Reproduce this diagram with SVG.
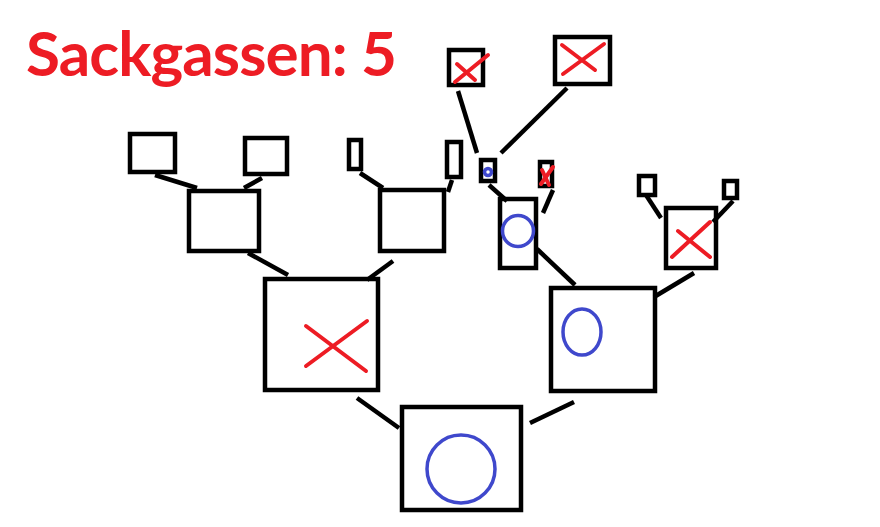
<svg xmlns="http://www.w3.org/2000/svg" width="880" height="527" viewBox="0 0 880 527">
<style>
.box{fill:none;stroke:#000;stroke-width:4.5}
.edge{stroke:#000;stroke-width:4.5;fill:none}
.x{stroke:#ED1C24;stroke-width:4;fill:none;stroke-linecap:round}
.o{stroke:#3F48CC;stroke-width:3.5;fill:none}
.title{font-family:Lato,"Liberation Sans",sans-serif;font-weight:bold;font-size:62px;fill:#ED1C24}
</style>
<rect width="880" height="527" fill="#fff"/>
<text class="title" x="26" y="76" textLength="371" lengthAdjust="spacing">Sackgassen: 5</text>
<g id="connectors">
<line class="edge" x1="357" y1="398" x2="399" y2="428"/>
<line class="edge" x1="530" y1="423" x2="574" y2="402"/>
<line class="edge" x1="248" y1="253" x2="288" y2="275"/>
<line class="edge" x1="393" y1="261" x2="367" y2="280"/>
<line class="edge" x1="155" y1="175" x2="197" y2="188"/>
<line class="edge" x1="262" y1="178" x2="244" y2="188"/>
<line class="edge" x1="360" y1="173" x2="383" y2="188"/>
<line class="edge" x1="452" y1="180" x2="448" y2="192"/>
<line class="edge" x1="537" y1="249" x2="575" y2="285"/>
<line class="edge" x1="694" y1="273" x2="654" y2="297"/>
<line class="edge" x1="646" y1="195" x2="661" y2="218"/>
<line class="edge" x1="733" y1="201" x2="713" y2="222"/>
<line class="edge" x1="489" y1="185" x2="507" y2="201"/>
<line class="edge" x1="553" y1="190" x2="543" y2="213"/>
<line class="edge" x1="458" y1="91" x2="477" y2="153"/>
<line class="edge" x1="567" y1="88" x2="501" y2="153"/>
</g>
<g id="root">
<rect class="box" x="402" y="407" width="119" height="103"/>
<circle class="o" cx="461" cy="469" r="34"/>
</g>
<g id="left-x">
<rect class="box" x="265" y="279" width="113" height="111"/>
<line class="x" x1="306" y1="326" x2="366" y2="371"/>
<line class="x" x1="306" y1="366" x2="367" y2="321"/>
</g>
<g id="right-o">
<rect class="box" x="551" y="288" width="104" height="103"/>
<ellipse class="o" cx="582" cy="332" rx="19" ry="23"/>
</g>
<g id="l1">
<rect class="box" x="189" y="191" width="70" height="60"/>
</g>
<g id="l2">
<rect class="box" x="380" y="190" width="64" height="61"/>
</g>
<g id="tall-o">
<rect class="box" x="500" y="199" width="36" height="69"/>
<circle class="o" cx="518" cy="231" r="15.5"/>
</g>
<g id="right-x">
<rect class="box" x="666" y="208" width="50" height="60"/>
<line class="x" x1="672" y1="257" x2="710" y2="222"/>
<line class="x" x1="678" y1="231" x2="710" y2="257"/>
</g>
<g id="leaf1"><rect class="box" x="130" y="134" width="45" height="38"/></g>
<g id="leaf2"><rect class="box" x="245" y="138" width="42" height="36"/></g>
<g id="leaf3"><rect class="box" x="349" y="140" width="12" height="29"/></g>
<g id="leaf4"><rect class="box" x="447" y="142" width="14" height="35"/></g>
<g id="small-o">
<rect class="box" x="481" y="160" width="14" height="21"/>
<circle class="o" cx="488" cy="172" r="3.5" stroke-width="2.5"/>
</g>
<g id="small-x">
<rect class="box" x="540" y="162" width="12" height="24"/>
<line class="x" x1="541" y1="184" x2="553" y2="167" stroke-width="3"/>
<line class="x" x1="542" y1="170" x2="549" y2="185" stroke-width="3"/>
</g>
<g id="top-x1">
<rect class="box" x="449" y="50" width="34" height="35"/>
<line class="x" x1="455" y1="82" x2="488" y2="55"/>
<line class="x" x1="457" y1="64" x2="475" y2="80"/>
</g>
<g id="top-x2">
<rect class="box" x="555" y="37" width="55" height="47"/>
<line class="x" x1="563" y1="74" x2="604" y2="44"/>
<line class="x" x1="562" y1="45" x2="595" y2="70"/>
</g>
<g id="leaf5"><rect class="box" x="639" y="176" width="16" height="19"/></g>
<g id="leaf6"><rect class="box" x="724" y="181" width="13" height="17"/></g>
</svg>
